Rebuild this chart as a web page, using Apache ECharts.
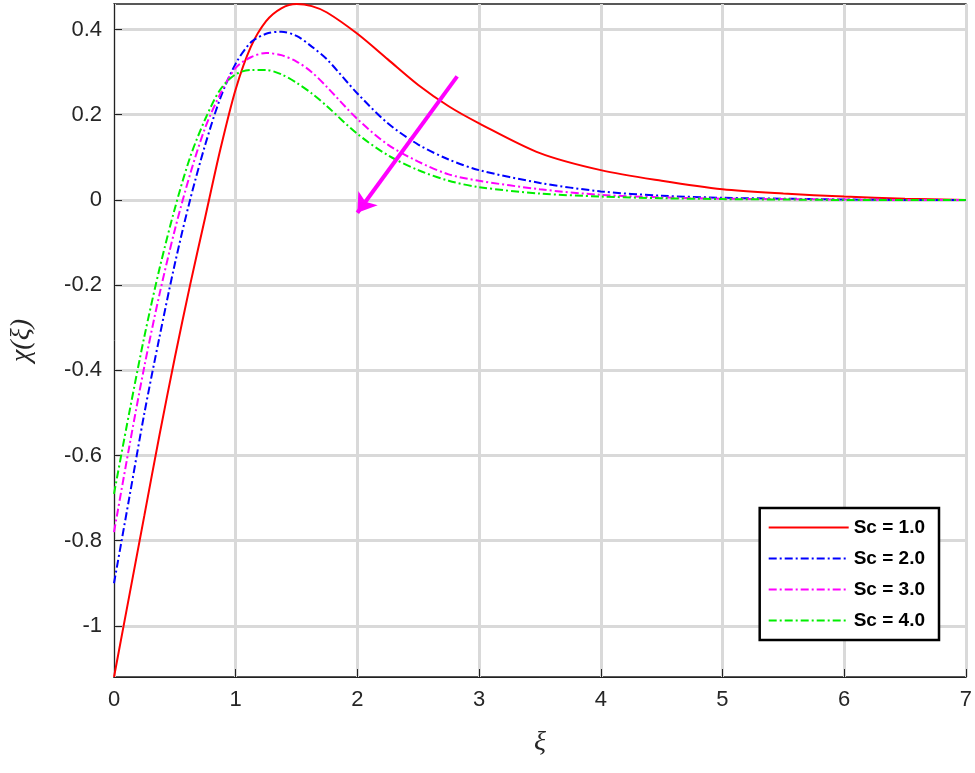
<!DOCTYPE html>
<html><head><meta charset="utf-8">
<script src="https://cdn.jsdelivr.net/npm/echarts@6/dist/echarts.min.js"></script>
<style>html,body{margin:0;background:#fff}#c{width:975px;height:773px}</style>
</head><body><div id="c"></div>
<script>
const xs = [0, 0.125, 0.25, 0.375, 0.5, 0.625, 0.75, 0.875, 1, 1.125, 1.25, 1.375, 1.5, 1.625, 1.75, 2, 2.25, 2.5, 2.75, 3, 3.5, 4, 4.5, 5, 5.5, 6, 6.5, 7];
const sc1 = [-1.12, -0.93, -0.74, -0.55, -0.37, -0.2, -0.04, 0.12, 0.26, 0.36, 0.42, 0.45, 0.46, 0.455, 0.44, 0.39, 0.33, 0.27, 0.22, 0.18, 0.11, 0.07, 0.045, 0.025, 0.015, 0.008, 0.003, 0];
const sc2 = [-0.9, -0.7, -0.5, -0.32, -0.15, 0.0, 0.13, 0.24, 0.32, 0.37, 0.39, 0.395, 0.385, 0.36, 0.33, 0.25, 0.18, 0.13, 0.095, 0.07, 0.04, 0.02, 0.01, 0.005, 0.003, 0.001, 0, 0];
const sc3 = [-0.78, -0.58, -0.39, -0.22, -0.07, 0.06, 0.17, 0.25, 0.31, 0.335, 0.345, 0.34, 0.325, 0.3, 0.265, 0.19, 0.13, 0.09, 0.06, 0.045, 0.025, 0.012, 0.006, 0.003, 0.002, 0.001, 0, 0];
const sc4 = [-0.69, -0.5, -0.32, -0.16, -0.02, 0.1, 0.19, 0.26, 0.295, 0.305, 0.305, 0.295, 0.275, 0.25, 0.22, 0.155, 0.105, 0.07, 0.045, 0.03, 0.015, 0.008, 0.004, 0.002, 0.001, 0, 0, 0];
const names = ['Sc = 1.0', 'Sc = 2.0', 'Sc = 3.0', 'Sc = 4.0'];
const colors = ['#ff0000', '#0000ff', '#ff00ff', '#00ee00'];
const dashes = ['solid', [8, 3, 2, 3], [8, 3, 2, 3], [8, 3, 2, 3]];
const yTicks = [-1, -0.8, -0.6, -0.4, -0.2, 0, 0.2, 0.4];
const arrow = [[2.82, 0.29], [2.0, -0.03]];

const series = [sc1, sc2, sc3, sc4].map((ys, k) => ({
  name: names[k], type: 'line', smooth: 0.3, symbol: 'none',
  data: xs.map((x, i) => [x, ys[i]]),
  lineStyle: { color: colors[k], width: 2, type: dashes[k] },
  itemStyle: { color: colors[k] }
}));
series.push({
  type: 'line', data: [], silent: true,
  markLine: {
    symbol: ['none', 'arrow'], symbolSize: 18, label: { show: false },
    lineStyle: { color: '#ff00ff', width: 4, type: 'solid' },
    data: [[{ coord: arrow[0] }, { coord: arrow[1] }]]
  }
});

const labelFont = { fontFamily: 'Arial, Liberation Sans', fontSize: 22, fontWeight: 500, color: '#262626' };
const chart = echarts.init(document.getElementById('c'));
chart.setOption({
  animation: false,
  grid: { left: 108, right: 5, top: 4, bottom: 96, show: true, borderColor: '#222', borderWidth: 1.5 },
  legend: {
    data: names, orient: 'vertical', right: 36, bottom: 133,
    backgroundColor: '#fff', borderColor: '#000', borderWidth: 2.5,
    padding: [10, 14, 10, 8], itemGap: 12, itemWidth: 80, itemHeight: 14,
    itemStyle: { opacity: 0 },
    textStyle: { fontFamily: 'Arial, Liberation Sans', fontWeight: 'bold', fontSize: 19, color: '#000' }
  },
  xAxis: {
    type: 'value', min: 0, max: 7, interval: 1,
    name: 'ξ', nameLocation: 'middle', nameGap: 52,
    nameTextStyle: { fontFamily: 'Liberation Serif', fontStyle: 'italic', fontSize: 28, color: '#262626' },
    axisLine: { onZero: false, lineStyle: { color: '#222' } },
    axisTick: { inside: true, length: 8, lineStyle: { color: '#222' } },
    axisLabel: Object.assign({ margin: 12 }, labelFont),
    splitLine: { lineStyle: { color: '#d9d9d9', width: 3 } }
  },
  yAxis: {
    type: 'value', min: -1.12, max: 0.46,
    name: 'χ(ξ)', nameLocation: 'middle', nameGap: 78,
    nameTextStyle: { fontFamily: 'Liberation Serif', fontStyle: 'italic', fontSize: 28, color: '#262626' },
    axisLine: { onZero: false, lineStyle: { color: '#222' } },
    axisTick: { inside: true, length: 8, customValues: yTicks, lineStyle: { color: '#222' } },
    axisLabel: Object.assign({ customValues: yTicks, margin: 12,
      formatter: v => String(Math.round(v * 10) / 10) }, labelFont),
    splitLine: { lineStyle: { color: '#d9d9d9', width: 3 } }
  },
  series: series
});
</script></body></html>
